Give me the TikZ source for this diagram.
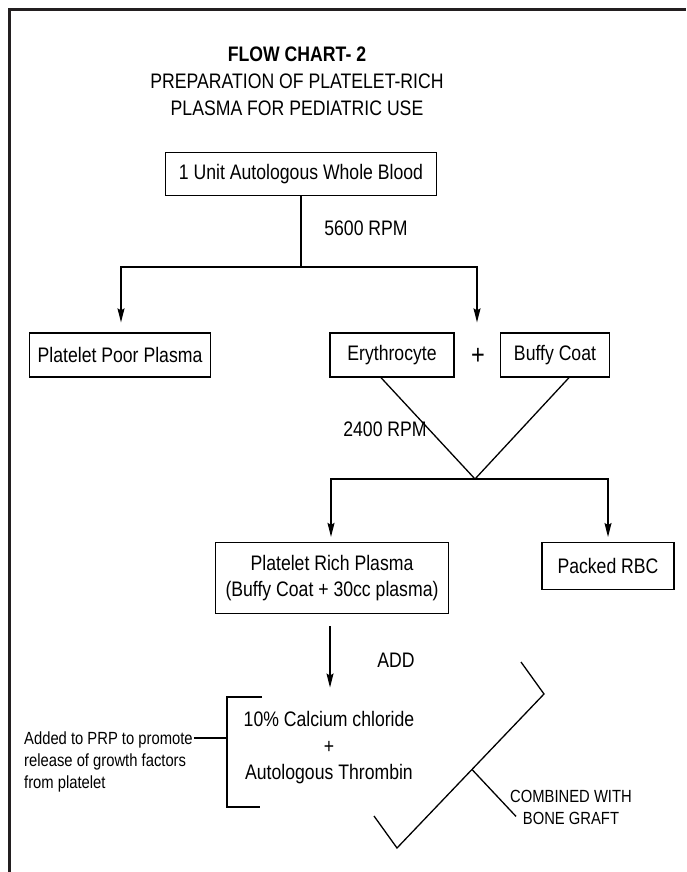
\documentclass[tikz,border=0pt]{standalone}
\usepackage{fontspec}
\setmainfont{Liberation Sans}[FakeStretch=0.84]
\usepackage{tikz}
\usetikzlibrary{arrows.meta}
\usetikzlibrary{calc}

\definecolor{framegray}{HTML}{231F20}

\tikzset{
	box/.style={draw, line width=1.3pt, inner sep=0pt, align=center, font=\fontsize{21}{26}\selectfont},
	lbl/.style={inner sep=0pt, font=\fontsize{21}{26}\selectfont},
	small/.style={inner sep=0pt, font=\fontsize{17.6}{22}\selectfont},
	line/.style={line width=1.3pt},
	arr/.style={line width=1.3pt, -{Stealth[length=14pt,width=7pt,inset=2pt]}}
}

\begin{document}
\begin{tikzpicture}[x=1pt,y=-1pt]
	\useasboundingbox (0,0) rectangle (686,872);
	
	% frame
	\draw[line width=3pt, framegray] (9.5,872) -- (9.5,9.5) -- (686,9.5);
	
	% title
	\node[lbl, align=center, font=\fontsize{21}{27}\selectfont] (title) at (297,81)
	{\textbf{FLOW CHART- 2}\\PREPARATION OF PLATELET-RICH\\PLASMA FOR PEDIATRIC USE};
	
	% first spin
	\node[box, minimum width=271pt, minimum height=43pt] (blood) at (301,174) {1 Unit Autologous Whole Blood};
	\node[lbl] (rpmA) at (366,228) {5600 RPM};
	\coordinate (splitA) at (301,267);
	
	\node[box, minimum width=181pt, minimum height=44pt] (poor) at (120,355) {Platelet Poor Plasma};
	\node[box, minimum width=124pt, minimum height=44pt] (ery) at (392,355) {Erythrocyte};
	\node[lbl, font=\fontsize{28}{28}\selectfont] (plus) at (478,356) {+};
	\node[box, minimum width=109pt, minimum height=44pt] (buffy) at (555,355) {Buffy Coat};
	
	\draw[line] (blood.south) -- (splitA);
	\draw[arr] (splitA) -| ($(poor.north)+(1,-10)$);
	\draw[arr] (splitA) -| ($(plus |- ery.north)+(-1,-10)$);
	
	% second spin
	\node[lbl] (rpmB) at (385,429) {2400 RPM};
	\coordinate (join) at (475,479);
	\draw[line] ($(ery.south)+(-11,0)$) -- (join) -- ($(buffy.south)+(14,0)$);
	
	\node[box, minimum width=233pt, minimum height=71pt] (prp) at (332,578) {Platelet Rich Plasma\\(Buffy Coat + 30cc plasma)};
	\node[box, minimum width=132pt, minimum height=47pt, anchor=north] (rbc) at (608,542) {Packed RBC};
	
	\draw[arr] (join) -| ($(prp.north)+(-1,-5)$);
	\draw[arr] (join) -| ($(rbc.north)+(0,-5)$);
	
	% activation
	\node[lbl, align=center, font=\fontsize{21}{26.5}\selectfont] (mix) at (329,748)
	{10\% Calcium chloride\\+\\Autologous Thrombin};
	\node[lbl] (add) at (396,660) {ADD};
	\draw[arr] ($(prp.south)+(-2,12)$) -- ($(mix.north)+(1,-24)$);
	
	% bracket
	\coordinate (brkT) at (262,697);
	\coordinate (brkB) at (260,807);
	\coordinate (brkM) at (227,738);
	\draw[line] (brkT) -- (brkT -| brkM) -- (brkB -| brkM) -- (brkB);
	
	\node[small, align=left, anchor=north west] (note) at (24,732)
	{Added to PRP to promote\\release of growth factors\\from platelet};
	\draw[line] ($(note.east |- brkM)+(1,0)$) -- (brkM);
	
	% combined with bone graft
	\coordinate (chkA) at (521,662);
	\coordinate (chkB) at (544,694);
	\coordinate (chkC) at (397,848);
	\coordinate (chkD) at (374,816);
	\draw[line] (chkA) -- (chkB) -- (chkC) -- (chkD);
	
	\node[small, align=center] (comb) at (571,807) {COMBINED WITH\\BONE GRAFT};
	\coordinate (tick) at ($(chkB)!0.49!(chkC)$);
	\draw[line] (tick) -- ($(comb.south west)+(6,-8)$);
\end{tikzpicture}
\end{document}
